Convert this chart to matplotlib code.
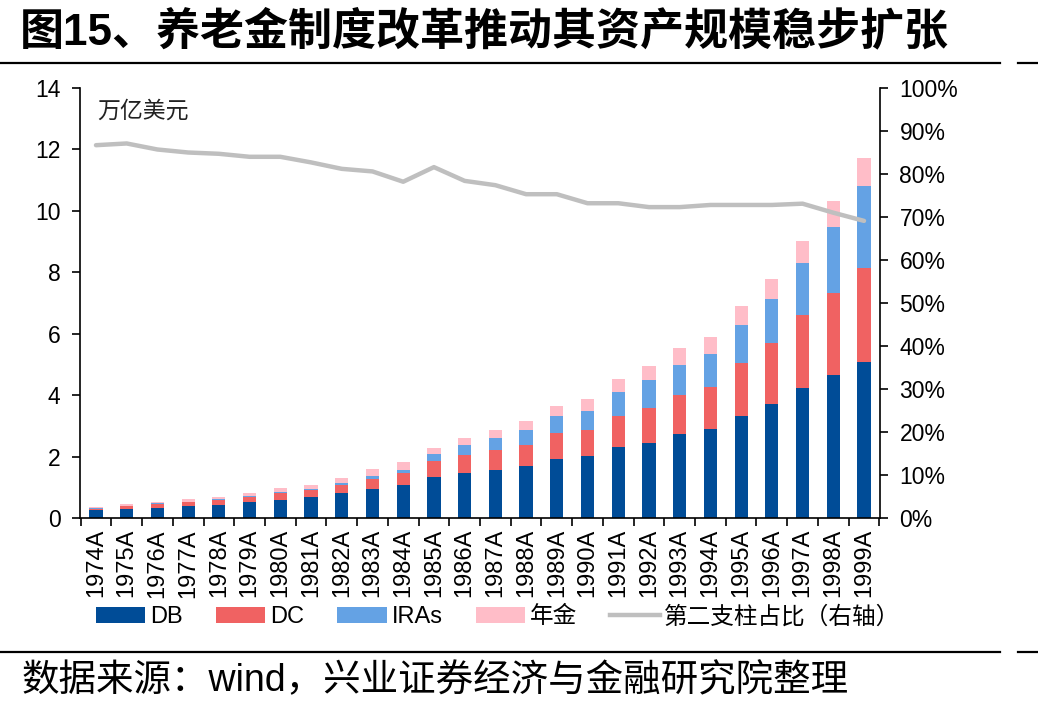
import matplotlib
matplotlib.use("Agg")
import matplotlib.pyplot as plt
from matplotlib.ticker import FuncFormatter, MultipleLocator
from matplotlib.lines import Line2D

plt.rcParams['font.family'] = ['Liberation Sans', 'Noto Sans CJK SC']
plt.rcParams['axes.unicode_minus'] = False

# data (万亿美元)
years = [str(y) + 'A' for y in range(1974, 2000)]
db = [0.25, 0.28, 0.34, 0.38, 0.41, 0.51, 0.59, 0.67, 0.80, 0.96, 1.06, 1.35, 1.48,
      1.57, 1.69, 1.91, 2.01, 2.30, 2.43, 2.72, 2.89, 3.32, 3.70, 4.22, 4.64, 5.08]
db_dc = [0.29, 0.38, 0.44, 0.51, 0.59, 0.67, 0.80, 0.91, 1.06, 1.27, 1.45, 1.87, 2.05,
         2.20, 2.38, 2.77, 2.85, 3.32, 3.58, 4.00, 4.27, 5.05, 5.71, 6.62, 7.33, 8.15]
db_dc_ira = [0.31, 0.40, 0.48, 0.53, 0.63, 0.71, 0.85, 0.94, 1.14, 1.38, 1.57, 2.07, 2.38,
             2.59, 2.85, 3.32, 3.49, 4.09, 4.48, 4.98, 5.33, 6.30, 7.14, 8.31, 9.46, 10.80]
total = [0.35, 0.47, 0.52, 0.61, 0.68, 0.81, 0.99, 1.06, 1.31, 1.61, 1.83, 2.29, 2.60,
         2.85, 3.16, 3.66, 3.88, 4.53, 4.95, 5.55, 5.88, 6.91, 7.79, 9.01, 10.33, 11.73]
share = [86.7, 87.1, 85.7, 85.0, 84.7, 84.0, 84.0, 82.7, 81.2, 80.6, 78.2, 81.6, 78.4,
         77.4, 75.3, 75.3, 73.2, 73.2, 72.3, 72.3, 72.8, 72.8, 72.8, 73.1, 71.0, 69.1]

dc = [b - a for a, b in zip(db, db_dc)]
ira = [b - a for a, b in zip(db_dc, db_dc_ira)]
annuity = [b - a for a, b in zip(db_dc_ira, total)]

c_db = '#004C97'
c_dc = '#F06262'
c_ira = '#64A2E4'
c_ann = '#FFBDC8'
c_line = '#BFBFBF'

fig = plt.figure(figsize=(10.38, 7.12), dpi=100)
ax = fig.add_axes([80 / 1038, 1 - 518 / 712, 800 / 1038, 430 / 712])

x = list(range(len(years)))
w = 0.43
ax.bar(x, db, w, color=c_db, label='DB')
ax.bar(x, dc, w, bottom=db, color=c_dc, label='DC')
ax.bar(x, ira, w, bottom=db_dc, color=c_ira, label='IRAs')
ax.bar(x, annuity, w, bottom=db_dc_ira, color=c_ann, label='年金')

ax.set_xlim(-0.52, len(years) - 0.48)
ax.set_ylim(0, 14)
ax.yaxis.set_major_locator(MultipleLocator(2))
ax.set_xticks(x)
ax.set_xticklabels(years, rotation=90, fontsize=17)
ax.set_xticks([i - 0.5 for i in range(len(years) + 1)], minor=True)
ax.tick_params(axis='x', which='major', length=0, pad=8)
ax.tick_params(axis='x', which='minor', length=6, width=1.2, direction='out')
ax.tick_params(axis='y', length=6, width=1.2, direction='out', labelsize=16.5, pad=8)
for s in ['top', 'right']:
    ax.spines[s].set_visible(False)
for s in ['left', 'bottom']:
    ax.spines[s].set_linewidth(1.2)

ax.text(0.022, 0.945, '万亿美元', transform=ax.transAxes, fontsize=16.5,
        ha='left', va='center', color='#222222')

ax2 = ax.twinx()
ax2.plot(x, share, color=c_line, lw=3.2, solid_capstyle='round',
         label='第二支柱占比（右轴）')
ax2.set_ylim(0, 100)
ax2.yaxis.set_major_locator(MultipleLocator(10))
ax2.yaxis.set_major_formatter(FuncFormatter(lambda v, p: '%d%%' % v))
ax2.tick_params(axis='y', length=6, width=1.2, direction='out', labelsize=16.5, pad=8)
for s in ['top', 'left', 'bottom']:
    ax2.spines[s].set_visible(False)
ax2.spines['right'].set_linewidth(1.2)

handles, labels = ax.get_legend_handles_labels()
handles.append(Line2D([0], [0], color=c_line, lw=3.2))
labels.append('第二支柱占比（右轴）')
fig.legend(handles, labels, ncol=5, loc='center', bbox_to_anchor=(0.48, 1 - 617 / 712),
           frameon=False, fontsize=17, handlelength=2.1, handleheight=0.7,
           columnspacing=1.4, handletextpad=0.2)

# title and rules
fig.text(20 / 1038, 1 - 32 / 712, '图15、养老金制度改革推动其资产规模稳步扩张',
         fontsize=31.7, fontweight='bold', ha='left', va='center',
         family=['Liberation Sans', 'Noto Sans CJK SC'])
for yy in [63, 652]:
    fig.add_artist(Line2D([0, 1000 / 1038], [1 - yy / 712] * 2, color='black', lw=1.6))
    fig.add_artist(Line2D([1018 / 1038, 1], [1 - yy / 712] * 2, color='black', lw=1.6))

fig.text(22 / 1038, 1 - 681 / 712, '数据来源：wind，兴业证券经济与金融研究院整理',
         fontsize=27, ha='left', va='center')

fig.savefig('out.png', dpi=100)
